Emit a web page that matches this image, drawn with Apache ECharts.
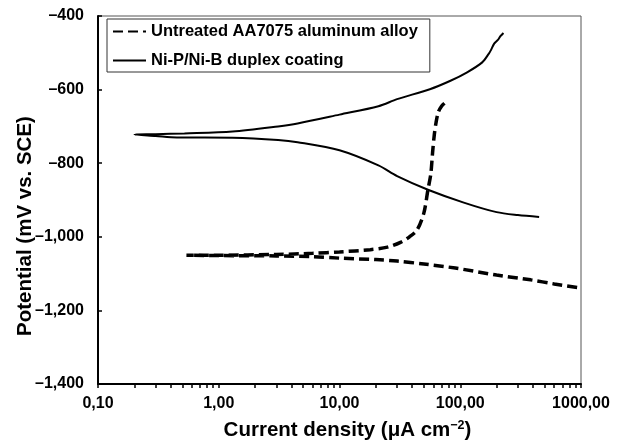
<!DOCTYPE html>
<html>
<head>
<meta charset="utf-8">
<script src="https://cdn.jsdelivr.net/npm/echarts@6/dist/echarts.min.js"></script>
<style>
  html, body { margin: 0; padding: 0; background: #fff; }
  #chart { width: 620px; height: 444px; }
</style>
</head>
<body>
<div id="chart"></div>
<script>
// tick positions / labels
const xLabelValues = [0.1, 1, 10, 100, 1000]
const xTickValues = []
for (let d = -1; d < 3; d++) {
  for (let k = 1; k < 10; k++) xTickValues.push(+(k * Math.pow(10, d)).toPrecision(3))
}
xTickValues.push(1000)

// Untreated AA7075 aluminum alloy (anodic tip -> Ecorr -> cathodic end)
const alloyCurrent = [74, 70, 66, 63, 61, 59, 57, 54, 50, 44, 38, 32, 25, 18, 10, 6, 3, 1, 0.54,
  1, 3, 6, 10, 20, 30, 50, 91, 200, 383, 600, 950]
const alloyPotential = [-637, -645, -660, -690, -722, -771, -830, -872, -935, -981, -1000, -1015, -1028, -1035, -1041, -1045, -1048, -1050, -1050,
  -1051, -1052, -1054, -1058, -1062, -1066, -1074, -1085, -1104, -1117, -1128, -1138]

// Ni-P/Ni-B duplex coating
const coatCurrent = [228, 215, 205, 191, 180, 172, 152, 114, 83, 56, 30, 21, 10, 4.5, 3.1, 1.3, 0.52, 0.3, 0.2,
  0.3, 0.45, 1.3, 3.1, 4.5, 10, 21, 30, 54, 107, 200, 300, 450]
const coatPotential = [-446, -455, -465, -475, -492, -503, -526, -553, -576, -599, -626, -645, -668, -692, -700, -714, -719, -721, -722,
  -726, -730, -731, -737, -743, -765, -806, -835, -872, -907, -933, -941, -946]

const font = "'Liberation Sans', Arial, sans-serif"

function pairs(xs, ys) {
  return xs.map((x, i) => [x, ys[i]])
}

function fmtY(v) {
  let s = String(Math.abs(v)).replace(/\B(?=(\d{3})+(?!\d))/g, ',')
  return v < 0 ? '\u2013' + s : s
}

const chart = echarts.init(document.getElementById('chart'))
chart.setOption({
  animation: false,
  grid: {
    left: 98, right: 39, top: 16, bottom: 60,
    outerBoundsMode: 'none',
    show: true, borderColor: '#555', borderWidth: 1
  },
  legend: {
    orient: 'vertical',
    left: 107, top: 19,
    padding: [4, 12, 3, 5],
    itemGap: 12,
    itemWidth: 33,
    itemHeight: 14,
    borderColor: '#333',
    borderWidth: 1,
    itemStyle: {opacity: 0},
    textStyle: {fontFamily: font, fontWeight: 'bold', fontSize: 16.5, color: '#000'},
    data: ['Untreated AA7075 aluminum alloy', 'Ni-P/Ni-B duplex coating']
  },
  xAxis: {
    type: 'log',
    logBase: 10,
    min: 0.1,
    max: 1000,
    name: 'Current density (μA cm{sup|\u22122})',
    nameLocation: 'middle',
    nameGap: 35,
    nameMoveOverlap: false,
    nameTextStyle: {
      fontFamily: font, fontWeight: 'bold', fontSize: 20.5, color: '#000', padding: [0, 0, 0, 16],
      rich: {sup: {fontFamily: font, fontWeight: 'bold', fontSize: 12.5, color: '#000', padding: [0, 0, 10, 0]}}
    },
    axisLine: {lineStyle: {color: '#000', width: 2}},
    axisTick: {length: 4, lineStyle: {color: '#000', width: 1.5}, customValues: xTickValues},
    axisLabel: {
      customValues: xLabelValues,
      margin: 12,
      fontFamily: font, fontWeight: 'bold', fontSize: 16, color: '#000',
      formatter: v => (+v).toFixed(2).replace('.', ',')
    },
    splitLine: {show: false}
  },
  yAxis: {
    type: 'value',
    min: -1400,
    max: -400,
    interval: 200,
    name: 'Potential (mV vs. SCE)',
    nameLocation: 'middle',
    nameGap: 62,
    nameMoveOverlap: false,
    nameTextStyle: {fontFamily: font, fontWeight: 'bold', fontSize: 20.5, color: '#000', padding: [0, 52, 0, 0]},
    axisLine: {lineStyle: {color: '#000', width: 2}},
    axisTick: {inside: true, length: 4, lineStyle: {color: '#000', width: 1.5}},
    axisLabel: {
      margin: 14,
      fontFamily: font, fontWeight: 'bold', fontSize: 16, color: '#000',
      formatter: fmtY
    },
    splitLine: {show: false}
  },
  series: [
    {
      name: 'Untreated AA7075 aluminum alloy',
      type: 'line',
      symbol: 'none',
      smooth: 0.3,
      lineStyle: {color: '#000', width: 3.5, type: [10, 5]},
      itemStyle: {color: '#000'},
      data: pairs(alloyCurrent, alloyPotential)
    },
    {
      name: 'Ni-P/Ni-B duplex coating',
      type: 'line',
      symbol: 'none',
      smooth: 0.3,
      lineStyle: {color: '#000', width: 2},
      itemStyle: {color: '#000'},
      data: pairs(coatCurrent, coatPotential)
    }
  ]
})
</script>
</body>
</html>
